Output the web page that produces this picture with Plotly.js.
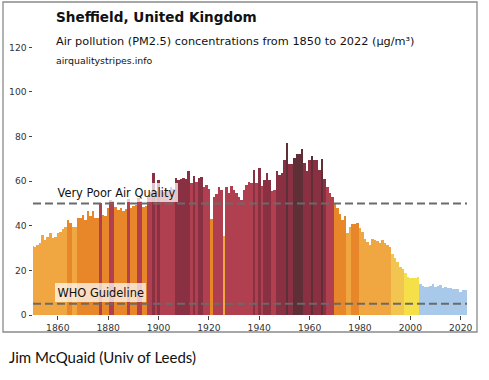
<!DOCTYPE html>
<html>
<head>
<meta charset="utf-8">
<script src="https://cdn.plot.ly/plotly-3.0.1.min.js"></script>
<style>
  html, body { margin: 0; padding: 0; background: #ffffff; }
  #chart { width: 489px; height: 380px; }
</style>
</head>
<body>
<div id="chart"></div>
<script>
// ---- data ----
const years = [
  1850,1851,1852,1853,1854,1855,1856,1857,1858,1859,
  1860,1861,1862,1863,1864,1865,1866,1867,1868,1869,
  1870,1871,1872,1873,1874,1875,1876,1877,1878,1879,
  1880,1881,1882,1883,1884,1885,1886,1887,1888,1889,
  1890,1891,1892,1893,1894,1895,1896,1897,1898,1899,
  1900,1901,1902,1903,1904,1905,1906,1907,1908,1909,
  1910,1911,1912,1913,1914,1915,1916,1917,1918,1919,
  1920,1921,1922,1923,1924,1925,1926,1927,1928,1929,
  1930,1931,1932,1933,1934,1935,1936,1937,1938,1939,
  1940,1941,1942,1943,1944,1945,1946,1947,1948,1949,
  1950,1951,1952,1953,1954,1955,1956,1957,1958,1959,
  1960,1961,1962,1963,1964,1965,1966,1967,1968,1969,
  1970,1971,1972,1973,1974,1975,1976,1977,1978,1979,
  1980,1981,1982,1983,1984,1985,1986,1987,1988,1989,
  1990,1991,1992,1993,1994,1995,1996,1997,1998,1999,
  2000,2001,2002,2003,2004,2005,2006,2007,2008,2009,
  2010,2011,2012,2013,2014,2015,2016,2017,2018,2019,
  2020,2021,2022
];
const pm25 = [
  30.9,30.6,31.2,32.3,35.8,33.8,34.8,36.9,34.6,35.0,
  36.6,37.3,38.4,39.3,42.5,41.2,39.5,39.4,43.3,43.6,
  44.8,42.8,46.6,44.5,46.6,43.3,43.6,50.4,44.8,44.3,
  48.0,51.5,51.2,48.5,47.0,48.0,46.7,47.5,52.0,48.0,
  49.0,49.5,52.5,51.0,48.5,49.0,53.0,55.0,63.7,55.5,
  60.5,56.0,55.0,57.0,56.0,57.5,56.5,61.2,60.5,60.8,
  61.6,61.0,64.5,59.0,62.2,59.5,61.5,62.0,57.5,58.2,
  56.5,43.0,53.0,54.3,57.3,56.0,35.4,57.5,54.5,57.8,
  56.2,54.5,53.0,51.5,56.2,58.2,59.7,59.0,65.2,59.0,
  65.7,57.8,60.5,63.5,60.5,55.7,56.2,64.7,62.7,63.7,
  69.7,76.9,67.6,67.9,70.6,72.1,72.1,74.6,68.2,64.6,
  69.4,71.2,69.4,69.6,64.9,70.1,60.8,57.2,54.5,53.0,
  49.8,47.8,45.5,42.8,44.3,36.8,39.3,40.6,40.9,41.2,
  38.8,37.3,33.9,32.8,31.3,33.9,33.6,33.3,32.2,33.4,
  32.5,31.3,30.6,27.2,25.4,23.9,21.6,20.5,19.0,17.2,
  16.6,16.4,16.6,17.0,13.7,13.2,12.7,12.6,13.2,13.7,
  12.5,12.8,13.3,12.3,12.6,12.0,12.3,11.8,11.6,11.8,
  10.4,11.0,11.2
];
const xTickVals = [1860,1880,1900,1920,1940,1960,1980,2000,2020];
const yTickVals = [0,20,40,60,80,100,120];
const guideLevels = [50, 5];
const guideLabels = ["Very Poor Air Quality", "WHO Guideline"];
const titleText = "Sheffield, United Kingdom";
const subtitleText = "Air pollution (PM2.5) concentrations from 1850 to 2022 (µg/m³)";
const sourceText = "airqualitystripes.info";
const creditText = "Jim McQuaid (Univ of Leeds)";

// ---- styles ----
const bandEdges = [15, 20, 30, 40, 50, 60, 70];
const bandColors = ["#a9c9ea","#f6e04a","#f1c54f","#f0a741","#e8872a","#b0404f","#8a3043","#5f2f37"];
function colorFor(v) {
  let i = 0;
  while (i < bandEdges.length && v >= bandEdges[i]) i++;
  return bandColors[i];
}

const FONT = "DejaVu Sans, sans-serif";
const L = 33, R = 22, T = 25, B = 65, W = 489, H = 380;
const pw = W - L - R, ph = H - T - B;
const px = (x) => (x - L) / pw;          // figure px -> paper x
const py = (y) => (H - B - y) / ph;      // figure px -> paper y

const trace = {
  type: "bar",
  x: years,
  y: pm25,
  width: 1,
  marker: { color: pm25.map(colorFor), line: { width: 0 } },
  hoverinfo: "x+y"
};

const shapes = guideLevels.map(v => ({
  type: "line", xref: "paper", yref: "y",
  x0: 0, x1: 1, y0: v, y1: v,
  line: { color: "#6a6a6a", width: 2, dash: "8px,4px" },
  layer: "above"
}));
// outer frame
shapes.push({
  type: "rect", xref: "paper", yref: "paper",
  x0: px(3), x1: px(477), y0: py(332), y1: py(2),
  line: { color: "#8a8a8a", width: 1.3 }, fillcolor: "rgba(0,0,0,0)", layer: "above"
});

const annotations = [
  { text: "<b>" + titleText + "</b>", xref: "paper", yref: "paper", x: px(54), y: py(17),
    xanchor: "left", yanchor: "middle", showarrow: false,
    font: { family: FONT, size: 13.6, color: "#111" } },
  { text: subtitleText, xref: "paper", yref: "paper", x: px(54), y: py(41),
    xanchor: "left", yanchor: "middle", showarrow: false,
    font: { family: FONT, size: 11.3, color: "#111" } },
  { text: sourceText, xref: "paper", yref: "paper", x: px(54), y: py(60),
    xanchor: "left", yanchor: "middle", showarrow: false,
    font: { family: FONT, size: 9.4, color: "#111" } },
  { text: creditText, xref: "paper", yref: "paper", x: px(7), y: py(357),
    xanchor: "left", yanchor: "middle", showarrow: false,
    font: { family: "Lato, Carlito, sans-serif", size: 15, color: "#111" } }
];
const labelY = [55.1, 9.9];
guideLabels.forEach((t, i) => {
  annotations.push({
    text: t, xref: "paper", yref: "y", x: px(55), y: labelY[i],
    xanchor: "left", yanchor: "middle", showarrow: false,
    bgcolor: "rgba(255,255,255,0.72)", borderpad: 2.5, borderwidth: 0,
    font: { family: FONT, size: 11.4, color: "#111" }
  });
});

const layout = {
  width: W, height: H,
  margin: { l: L, r: R, t: T, b: B, pad: 0 },
  paper_bgcolor: "#ffffff", plot_bgcolor: "#ffffff",
  showlegend: false,
  bargap: 0,
  font: { family: FONT, size: 9, color: "#333" },
  xaxis: {
    range: [1850.15, 2022.5], tickmode: "array", tickvals: xTickVals,
    ticks: "outside", ticklen: 3.5, tickwidth: 1, tickcolor: "#444",
    showgrid: false, zeroline: false, showline: false,
    tickfont: { family: FONT, size: 9.2, color: "#333" }, fixedrange: true
  },
  yaxis: {
    range: [0, 130], tickmode: "array", tickvals: yTickVals,
    ticks: "outside", ticklen: 3.5, tickwidth: 1, tickcolor: "#444",
    showgrid: false, zeroline: false, showline: false,
    tickfont: { family: FONT, size: 9.2, color: "#333" }, fixedrange: true
  },
  shapes: shapes,
  annotations: annotations
};

Plotly.newPlot("chart", [trace], layout, { displayModeBar: false, staticPlot: true });
</script>
</body>
</html>
